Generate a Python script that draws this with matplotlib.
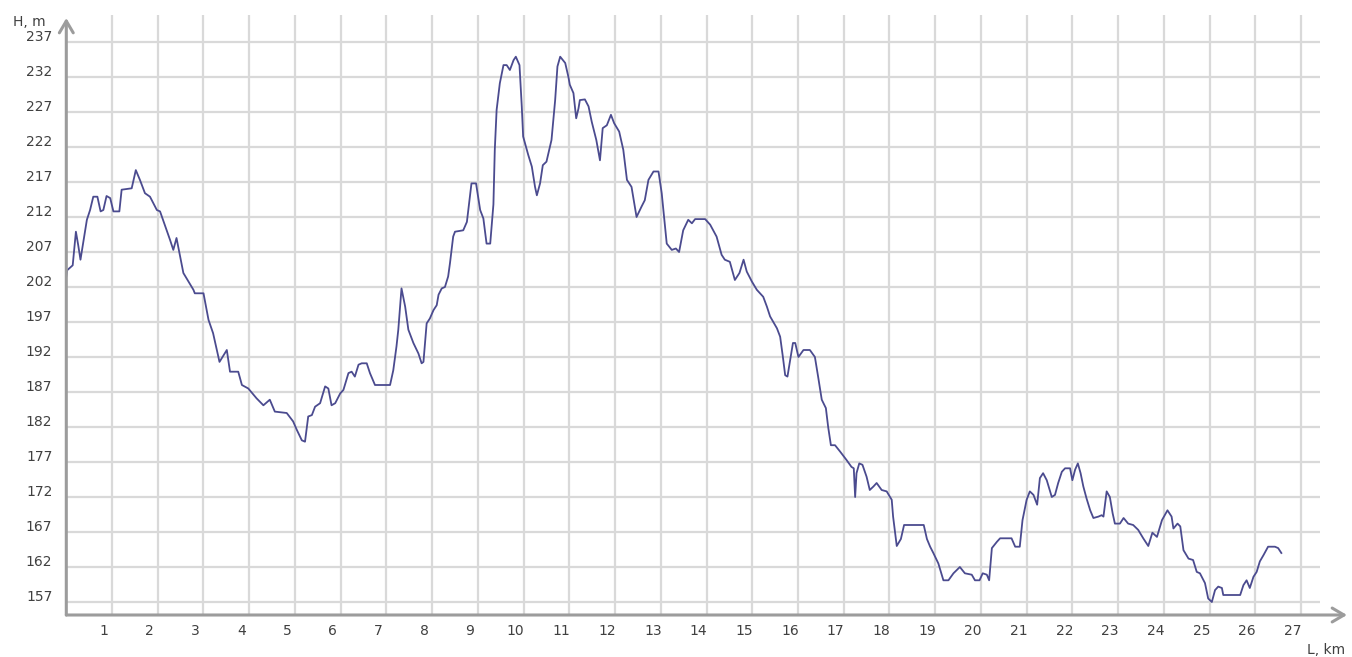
import numpy as np
import matplotlib
matplotlib.use("Agg")
import matplotlib.pyplot as plt
from matplotlib.transforms import ScaledTranslation

# distance along the route, km
dist_km = [
    0.00, 0.02, 0.14, 0.21, 0.26, 0.31, 0.39, 0.45, 0.52, 0.59, 0.68, 0.75, 0.81, 0.88, 0.96,
    1.03, 1.16, 1.21, 1.43, 1.52, 1.61, 1.72, 1.83, 1.98, 2.05, 2.27, 2.34, 2.41, 2.49, 2.56,
    2.78, 2.81, 3.00, 3.11, 3.21, 3.35, 3.51, 3.58, 3.76, 3.84, 3.98, 4.16, 4.31, 4.45, 4.56,
    4.82, 4.96, 5.04, 5.15, 5.22, 5.29, 5.37, 5.44, 5.55, 5.66, 5.73, 5.80, 5.88, 5.99, 6.06,
    6.17, 6.24, 6.31, 6.39, 6.46, 6.57, 6.64, 6.75, 7.08, 7.15, 7.22, 7.26, 7.33, 7.41, 7.48,
    7.59, 7.70, 7.77, 7.81, 7.88, 7.95, 8.03, 8.10, 8.14, 8.21, 8.28, 8.35, 8.39, 8.46, 8.50,
    8.68, 8.76, 8.86, 8.96, 9.05, 9.12, 9.19, 9.27, 9.34, 9.37, 9.41, 9.48, 9.56, 9.63, 9.70,
    9.78, 9.83, 9.91, 9.96, 9.99, 10.10, 10.18, 10.25, 10.29, 10.36, 10.42, 10.50, 10.61, 10.69,
    10.74, 10.80, 10.91, 10.98, 11.01, 11.09, 11.15, 11.20, 11.23, 11.34, 11.42, 11.49, 11.59,
    11.67, 11.73, 11.82, 11.91, 11.98, 12.09, 12.18, 12.26, 12.36, 12.47, 12.58, 12.65, 12.73,
    12.84, 12.95, 13.02, 13.13, 13.24, 13.33, 13.40, 13.49, 13.60, 13.68, 13.75, 13.97, 14.08,
    14.22, 14.33, 14.40, 14.51, 14.62, 14.72, 14.81, 14.88, 14.99, 15.10, 15.24, 15.32, 15.39,
    15.54, 15.61, 15.67, 15.72, 15.77, 15.83, 15.89, 15.94, 16.01, 16.12, 16.26, 16.37, 16.44,
    16.52, 16.61, 16.66, 16.72, 16.81, 16.92, 17.06, 17.17, 17.22, 17.25, 17.28, 17.34, 17.41,
    17.50, 17.57, 17.65, 17.72, 17.83, 17.94, 18.05, 18.08, 18.16, 18.25, 18.32, 18.75, 18.82,
    18.89, 18.96, 19.07, 19.18, 19.29, 19.40, 19.54, 19.65, 19.80, 19.87, 19.97, 20.04, 20.13,
    20.18, 20.24, 20.35, 20.42, 20.67, 20.75, 20.85, 20.91, 21.00, 21.07, 21.15, 21.23, 21.29,
    21.36, 21.44, 21.55, 21.62, 21.69, 21.77, 21.84, 21.95, 22.00, 22.06, 22.12, 22.18, 22.24,
    22.31, 22.39, 22.46, 22.57, 22.64, 22.68, 22.75, 22.82, 22.88, 22.93, 23.04, 23.12, 23.22,
    23.33, 23.44, 23.55, 23.66, 23.75, 23.85, 23.96, 24.08, 24.17, 24.21, 24.30, 24.36, 24.43,
    24.54, 24.64, 24.72, 24.79, 24.90, 24.97, 25.05, 25.12, 25.19, 25.27, 25.30, 25.67, 25.74,
    25.81, 25.88, 25.96, 26.03, 26.10, 26.18, 26.28, 26.43, 26.50, 26.57,
]

# height, m
height_m = [
    203.5, 204.4, 205.1, 209.9, 208.0, 205.9, 209.2, 211.6, 213.0, 214.9, 214.9, 212.8, 213.0, 215.0, 214.7,
    212.8, 212.8, 215.9, 216.1, 218.7, 217.3, 215.4, 214.9, 213.0, 212.8, 208.7, 207.3, 209.0, 206.3, 204.0,
    201.6, 201.1, 201.1, 197.3, 195.4, 191.3, 193.0, 189.9, 189.9, 188.0, 187.5, 186.1, 185.1, 185.9, 184.2,
    184.0, 182.8, 181.6, 180.1, 179.9, 183.5, 183.7, 184.9, 185.4, 187.8, 187.5, 185.1, 185.4, 186.8, 187.3,
    189.7, 189.9, 189.2, 190.9, 191.1, 191.1, 189.7, 188.0, 188.0, 190.1, 193.5, 195.9, 201.8, 199.2, 195.9,
    194.0, 192.5, 191.1, 191.3, 196.8, 197.5, 198.7, 199.4, 200.9, 201.8, 202.0, 203.5, 205.4, 209.2, 209.9,
    210.1, 211.3, 216.8, 216.8, 213.0, 211.8, 208.2, 208.2, 213.8, 221.6, 227.3, 231.1, 233.7, 233.7, 233.0,
    234.4, 234.9, 233.7, 227.8, 223.5, 220.9, 219.2, 216.3, 215.1, 216.8, 219.4, 219.9, 223.0, 228.7,
    233.5, 234.9, 234.0, 232.0, 230.9, 229.7, 226.1, 227.5, 228.7, 228.8, 227.8, 225.6, 223.0,
    220.1, 224.7, 225.1, 226.6, 225.4, 224.2, 221.6, 217.3, 216.3, 212.0, 213.5, 214.4, 217.3,
    218.5, 218.5, 215.4, 208.2, 207.3, 207.5, 207.0, 210.1, 211.6, 211.1, 211.7, 211.7, 210.9,
    209.2, 206.6, 205.9, 205.6, 203.0, 204.0, 205.9, 204.2, 202.8, 201.6, 200.6, 199.2, 197.8,
    196.1, 194.9, 192.0, 189.4, 189.2, 191.6, 194.0, 194.0, 192.0, 193.0, 193.0, 192.0, 189.2,
    185.9, 184.7, 182.0, 179.4, 179.4, 178.5, 177.3, 176.3, 176.1, 172.0, 175.4, 176.8, 176.6,
    174.9, 173.0, 173.5, 174.0, 173.0, 172.8, 171.6, 169.2, 165.0, 166.0, 168.0, 168.0, 166.0,
    164.9, 164.0, 162.5, 160.1, 160.1, 161.1, 162.0, 161.1, 160.9, 160.1, 160.1, 161.1, 160.9,
    160.1, 164.7, 165.6, 166.1, 166.1, 164.9, 164.9, 168.7, 171.6, 172.8, 172.3, 170.9, 174.7,
    175.4, 174.4, 172.0, 172.3, 174.0, 175.6, 176.1, 176.1, 174.4, 175.9, 176.8, 175.4, 173.5,
    171.8, 170.1, 169.0, 169.2, 169.4, 169.2, 172.8, 172.0, 169.7, 168.2, 168.2, 169.0, 168.2,
    168.0, 167.3, 166.1, 165.0, 166.9, 166.3, 168.7, 170.1, 169.2, 167.5, 168.2, 167.8, 164.4,
    163.2, 163.0, 161.3, 161.1, 159.7, 157.5, 157.0, 158.7, 159.2, 159.0, 158.0, 158.0, 159.4,
    160.1, 159.0, 160.6, 161.3, 162.8, 163.7, 164.9, 164.9, 164.7, 164.0,
]

x_ticks = list(range(1, 28))
y_ticks = list(range(157, 238, 5))

W, H = 1352, 657
fig = plt.figure(figsize=(W / 100, H / 100), dpi=100)
fig.patch.set_facecolor("white")

# axes box in pixels: x from 66 to 1347, y from 15 (top) to 615 (x axis)
ax = fig.add_axes([66.3 / W, (H - 615) / H, (1347 - 66.3) / W, (615 - 15) / H])
y0, y1 = 157 - 13 / 7, 157 + (602 - 15) / 7
ax.set_xlim(0, (1347 - 66.3) / 45.73)
ax.set_ylim(y0, y1)

grid_c = "#d9d9d9"
ax.vlines(x_ticks, y0, y1, colors=grid_c, lw=1.6, zorder=1)
ax.hlines(y_ticks, 0, 27.42, colors=grid_c, lw=1.6, zorder=1)

ax.plot(dist_km, height_m, color="#4b4b8f", lw=1.3, zorder=3)

for s in ax.spines.values():
    s.set_visible(False)

ax.set_xticks(x_ticks)
ax.set_yticks(y_ticks)
ax.tick_params(length=0, labelsize=10, labelcolor="#404040")
ax.tick_params(axis="x", pad=6.5)
ax.tick_params(axis="y", pad=10)

# labels sit a little off their gridlines in the original
for lab in ax.get_xticklabels():
    lab.set_transform(lab.get_transform() + ScaledTranslation(-8 / 100, 0, fig.dpi_scale_trans))
for lab in ax.get_yticklabels():
    lab.set_transform(lab.get_transform() + ScaledTranslation(0, 7 / 100, fig.dpi_scale_trans))

axis_c = "#9c9c9c"
arrow = dict(arrowstyle="->,head_length=0.85,head_width=0.5", color=axis_c, lw=2.2,
             shrinkA=0, shrinkB=0, mutation_scale=10)
x_end = (1347 - 66.3) / 45.73
ax.annotate("", xy=(x_end, y0), xytext=(0, y0), arrowprops=arrow, annotation_clip=False, zorder=4)
ax.annotate("", xy=(0, 157 + (602 - 18) / 7), xytext=(0, y0), arrowprops=arrow,
            annotation_clip=False, zorder=4)

fig.text(13 / W, 1 - 22 / H, "H, m", fontsize=10, color="#404040", ha="left", va="center")
fig.text(1307 / W, 1 - 650 / H, "L, km", fontsize=10, color="#404040", ha="left", va="center")

fig.savefig("out.png", dpi=100)
